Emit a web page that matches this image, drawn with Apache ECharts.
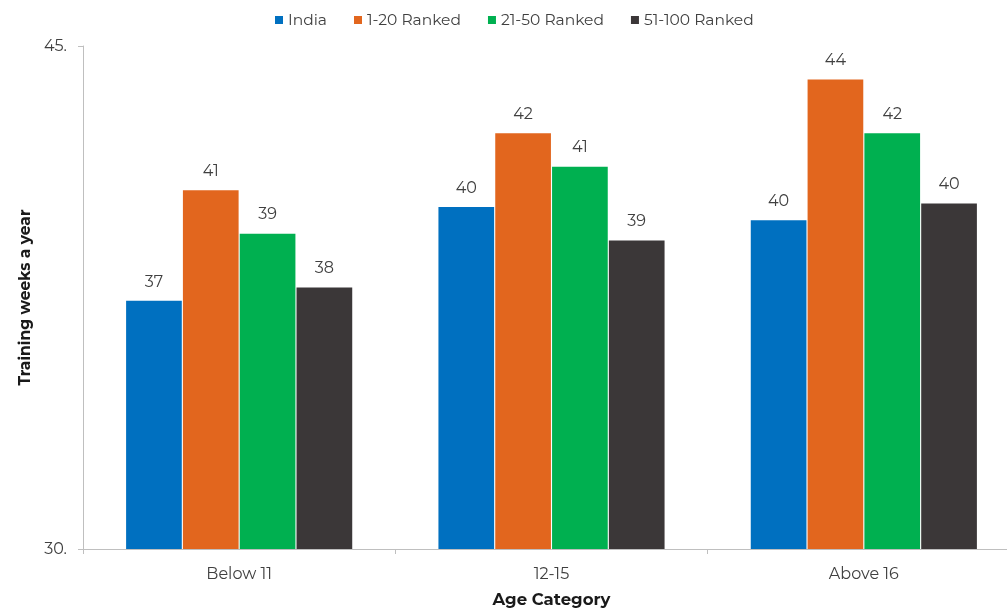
<!DOCTYPE html>
<html><head><meta charset="utf-8">
<script src="https://cdn.jsdelivr.net/npm/echarts@6/dist/echarts.min.js"></script>
<style>html,body{margin:0;padding:0;background:#fff;overflow:hidden}#c{width:1020px;height:608px}</style>
</head><body><div id="c"></div>
<script>
const categories = ['Below 11', '12-15', 'Above 16'];
const seriesNames = ['India', '1-20 Ranked', '21-50 Ranked', '51-100 Ranked'];
const india = [37.4, 40.2, 39.8];
const top20 = [40.7, 42.4, 44.0];
const top50 = [39.4, 41.4, 42.4];
const top100 = [37.8, 39.2, 40.3];
const yTicks = [30, 45];
const colors = ['#0070C0', '#E2661E', '#00B050', '#3B3738'];
const FONT = 'Montserrat, Inter, "Open Sans", sans-serif';
const values = [india, top20, top50, top100];
const chart = echarts.init(document.getElementById('c'));
chart.setOption({
  animation: false,
  textStyle: { fontFamily: FONT },
  legend: {
    top: 7, left: 270, itemWidth: 8, itemHeight: 8, itemGap: 27, icon: 'rect',
    textStyle: { fontSize: 15.5, color: '#404040', fontFamily: FONT }
  },
  grid: { left: 83, width: 937, top: 46, height: 503, containLabel: false, outerBoundsMode: 'none' },
  xAxis: {
    type: 'category', data: categories,
    name: 'Age Category', nameLocation: 'middle', nameGap: 43,
    nameTextStyle: { fontSize: 16.5, fontWeight: 'bold', color: '#1a1a1a', fontFamily: FONT },
    axisLine: { lineStyle: { color: '#BFBFBF' } },
    axisTick: { show: true, length: 5, lineStyle: { color: '#BFBFBF' } },
    axisLabel: { fontSize: 16, color: '#404040', margin: 17 }
  },
  yAxis: {
    type: 'value', min: yTicks[0], max: yTicks[1], interval: yTicks[1] - yTicks[0],
    name: 'Training weeks a year', nameLocation: 'middle', nameGap: 45, nameRotate: 90,
    nameTextStyle: { fontSize: 15.5, fontWeight: 'bold', color: '#1a1a1a', fontFamily: FONT },
    splitLine: { show: false },
    axisLine: { show: true, lineStyle: { color: '#BFBFBF' } },
    axisTick: { show: true, length: 5, lineStyle: { color: '#BFBFBF' } },
    axisLabel: { fontSize: 16, color: '#404040', margin: 16, formatter: v => v + '.' }
  },
  series: seriesNames.map((n, i) => ({
    name: n, type: 'bar', data: values[i],
    barGap: '2%', barCategoryGap: '27.6%',
    itemStyle: { color: colors[i] },
    label: {
      show: true, position: 'top', distance: 11, fontSize: 16, color: '#404040',
      formatter: p => Math.round(p.value)
    }
  }))
});
</script></body></html>
